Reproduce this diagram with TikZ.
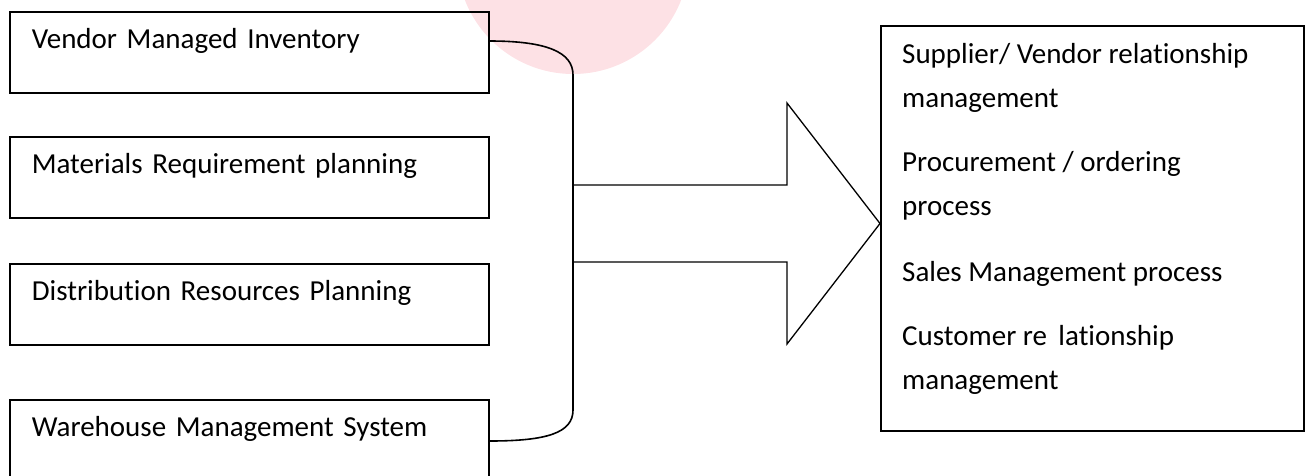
\documentclass[tikz,border=0pt]{standalone}
\usepackage{fontspec}
\setmainfont{Carlito}[Ligatures=NoCommon]
\definecolor{markpink}{RGB}{253,225,229}
\tikzset{
  inbox/.style={draw, line width=1.6pt, anchor=north west, align=left,
    inner xsep=22pt, inner ysep=0pt, text width=435pt,
    text height=37pt, text depth=44pt},
  item/.style={anchor=base west, align=left, inner sep=0pt},
  bigtext/.style={font=\fontsize{29}{43.5}\selectfont}
}

\begin{document}
\begin{tikzpicture}[x=1pt, y=-1pt, every node/.style={bigtext}]
  \useasboundingbox (0,0) rectangle (1306,475);

  % watermark
  \fill[markpink] (573,-42) circle[radius=116pt];

  % tools on the left
  \node [inbox] (vmi) at (9,11) {Vendor Managed Inventory};
  \node [inbox] (mrp) at (9,136) {Materials Requirement planning};
  \node [inbox] (drp) at (9,263) {Distribution Resources Planning};
  \node [inbox] (wms) at (9,399) {Warehouse Management System};

  % processes on the right (base = last line)
  \node [draw, line width=1.6pt, anchor=north west, inner sep=0pt,
    minimum width=423pt, minimum height=405pt] (scm) at (880,25) {};
  \node [item] (svr) at (902,107) {Supplier/ Vendor relationship\\management};
  \node [item] (proc) at (902,215) {Procurement / ordering\\process};
  \node [item] (sales) at (902,281) {Sales Management process};
  \node [item] (crm) at (902,389) {Customer re\, lationship\\management};

  % brace
  \draw [line width=1.6pt] ([yshift=-30pt]vmi.north east)
    .. controls +(57,0) and +(0,-23) .. (573,75) coordinate (bracetop)
    -- (573,410) coordinate (bracebot)
    .. controls +(0,23) and +(57,0) .. ([yshift=-42pt]wms.north east);

  % arrow to the right box
  \coordinate (tip) at (scm.north west |- 0,223.5);
  \draw [line width=1.3pt, line join=miter] (573,185) -- ++(214,0) -- ++(0,-82)
    -- (tip) -- (787,344) -- ++(0,-82) -- ++(-214,0);

\end{tikzpicture}
\end{document}
